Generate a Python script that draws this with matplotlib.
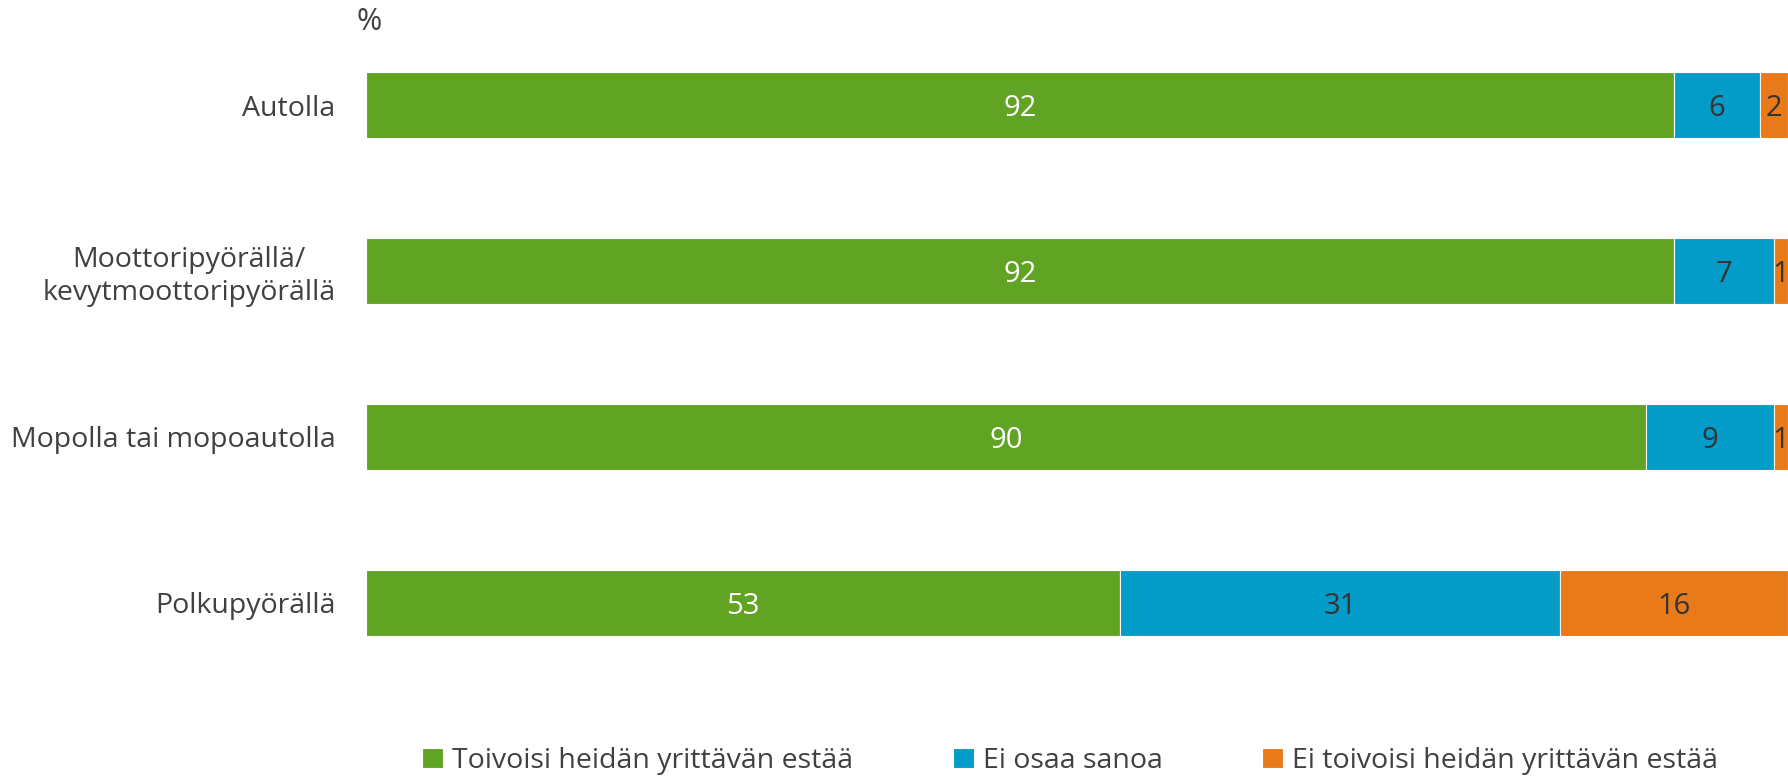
import numpy as np
import matplotlib.pyplot as plt

plt.rcParams['font.family'] = ['Open Sans', 'DejaVu Sans']

categories = ['Autolla', 'Moottoripyörällä/\nkevytmoottoripyörällä',
              'Mopolla tai mopoautolla', 'Polkupyörällä']
series_names = ['Toivoisi heidän yrittävän estää', 'Ei osaa sanoa',
                'Ei toivoisi heidän yrittävän estää']
toivoisi = [92, 92, 90, 53]
ei_osaa = [6, 7, 9, 31]
ei_toivoisi = [2, 1, 1, 16]

colors = ['#61A323', '#039BC7', '#E97A1A']
label_colors = ['white', '#333333', '#333333']
text_color = '#404040'

fig = plt.figure(figsize=(17.88, 7.76), dpi=100)
ax = fig.add_axes([366 / 1788, 90 / 776, 1 - 366 / 1788, 664 / 776])

y = np.arange(len(categories))
left = np.zeros(len(categories))
for vals, name, c, lc in zip([toivoisi, ei_osaa, ei_toivoisi], series_names, colors, label_colors):
    bars = ax.barh(y, vals, left=left, height=0.4, color=c, edgecolor='white',
                   linewidth=0.8, label=name)
    texts = ax.bar_label(bars, labels=[str(v) for v in vals], label_type='center',
                         color=lc, fontsize=21)
    for t in texts:
        t.set_va('center_baseline')
    left += np.array(vals)

ax.set_xlim(0, 100)
ax.set_ylim(3.5, -0.5)
ax.set_yticks(y)
ax.set_yticklabels(categories, fontsize=20.5, color=text_color,
                   multialignment='center')
ax.tick_params(axis='y', length=0, pad=22)
ax.set_xticks([])
for s in ax.spines.values():
    s.set_visible(False)

fig.text(369 / 1788, 1 - 22 / 776, '%', fontsize=22, color=text_color,
         ha='center', va='center')

fig.legend(loc='center', bbox_to_anchor=(1070 / 1788, 1 - 761 / 776), ncol=3,
           frameon=False, fontsize=20.5, handlelength=0.75, handleheight=0.75,
           handletextpad=0.3, columnspacing=3.5, labelcolor=text_color)

fig.savefig('out.png', dpi=100)
